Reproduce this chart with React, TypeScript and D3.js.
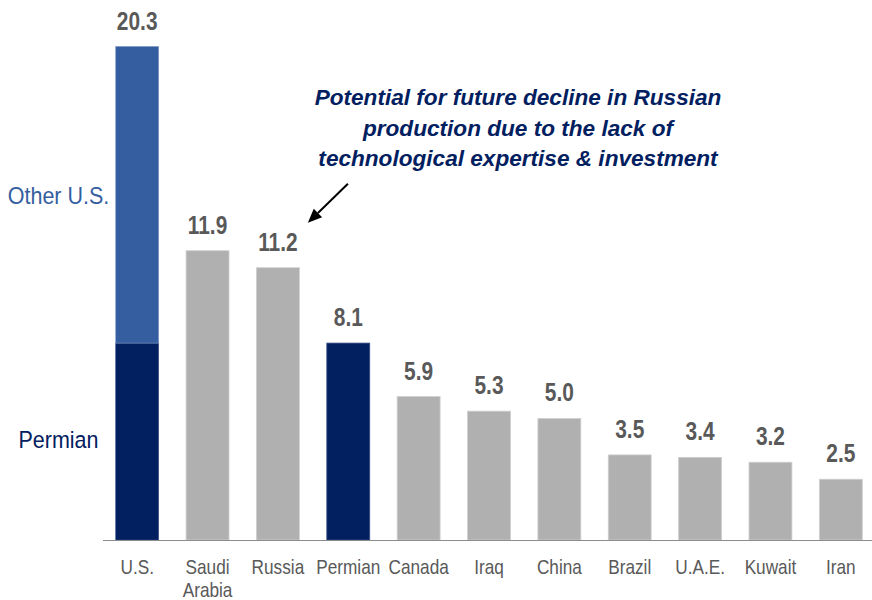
import React from "react";
import * as d3 from "d3";

const categories = ["U.S.", "Saudi Arabia", "Russia", "Permian", "Canada", "Iraq", "China", "Brazil", "U.A.E.", "Kuwait", "Iran"];
const categoryLines = [["U.S."], ["Saudi", "Arabia"], ["Russia"], ["Permian"], ["Canada"], ["Iraq"], ["China"], ["Brazil"], ["U.A.E."], ["Kuwait"], ["Iran"]];
const totals = [20.3, 11.9, 11.2, 8.1, 5.9, 5.3, 5.0, 3.5, 3.4, 3.2, 2.5];
const valueLabels = ["20.3", "11.9", "11.2", "8.1", "5.9", "5.3", "5.0", "3.5", "3.4", "3.2", "2.5"];
const usPermian = 8.1;
const usOther = 20.3 - 8.1;
const annotationLines = [
  "Potential for future decline in Russian",
  "production due to the lack of",
  "technological expertise & investment",
];

const W = 872;
const H = 600;
const NAVY = "#022060";
const BLUE = "#355EA0";
const GRAY = "#B0B0B0";
const TEXT = "#595959";
const ARIAL = "'Liberation Sans', Arial, sans-serif";

function NText(props: { x: number; y: number; sx?: number; sy?: number; size: number; fill: string; bold?: boolean; children: React.ReactNode }) {
  const { x, y, sx = 0.82, sy = 1, size, fill, bold } = props;
  return (
    <text
      transform={`translate(${x},${y}) scale(${sx},${sy})`}
      textAnchor="middle"
      fontFamily={ARIAL}
      fontWeight={bold ? "bold" : "normal"}
      fontSize={size}
      fill={fill}
    >
      {props.children}
    </text>
  );
}

export default function App() {
  const x = d3.scaleBand<string>().domain(categories).range([102, 876]).paddingInner(0.39).paddingOuter(0.195);
  const y = d3.scaleLinear().domain([0, 20.3]).range([540, 46.5]);
  const bw = x.bandwidth();

  const bars: React.ReactNode[] = [];
  categories.forEach((c, i) => {
    const x0 = x(c)!;
    if (i === 0) {
      bars.push(
        <rect key="us-perm" x={x0} y={y(usPermian)} width={bw} height={y(0) - y(usPermian)} fill={NAVY} stroke="#3a4f86" strokeWidth={0.6} />
      );
      bars.push(
        <rect key="us-other" x={x0} y={y(usPermian + usOther)} width={bw} height={y(usPermian) - y(usPermian + usOther)} fill={BLUE} stroke="#7d97c4" strokeWidth={0.6} />
      );
    } else {
      const fill = c === "Permian" ? NAVY : GRAY;
      const stroke = c === "Permian" ? "#3a4f86" : "#cfcfcf";
      bars.push(
        <rect key={c} x={x0} y={y(totals[i])} width={bw} height={y(0) - y(totals[i])} fill={fill} stroke={stroke} strokeWidth={0.8} />
      );
    }
  });

  const russiaX = x("Russia")! + bw / 2;
  const tipX = russiaX + 30;
  const tipY = y(11.2) - 45;
  const tailX = tipX + 40;
  const tailY = tipY - 39;
  const ang = Math.atan2(tipY - tailY, tipX - tailX);
  const ah = 14;
  const aw = 6;
  const bx = tipX - ah * Math.cos(ang);
  const by = tipY - ah * Math.sin(ang);
  const headPts = [
    [tipX, tipY],
    [bx + aw * Math.sin(ang), by - aw * Math.cos(ang)],
    [bx - aw * Math.sin(ang), by + aw * Math.cos(ang)],
  ];

  return (
    <svg width={W} height={H} style={{ position: "absolute", left: 0, top: 0, background: "#fff" }}>
      {bars}
      <line x1={103} x2={872} y1={y(0) + 0.5} y2={y(0) + 0.5} stroke="#8c8c8c" strokeWidth={1.2} />
      {categories.map((c, i) => (
        <NText key={"v" + c} x={x(c)! + bw / 2} y={y(totals[i]) - 17} size={25.5} fill={TEXT} bold>
          {valueLabels[i]}
        </NText>
      ))}
      {categories.map((c, i) =>
        categoryLines[i].map((ln, j) => (
          <NText key={"c" + c + j} x={x(c)! + bw / 2} y={574 + j * 23} size={21} fill={TEXT}>
            {ln}
          </NText>
        ))
      )}
      <NText x={58.5} y={204} size={21.5} sx={1} sy={1.08} fill={BLUE}>
        Other U.S.
      </NText>
      <NText x={58.5} y={448} size={21.5} sx={1} sy={1.08} fill={NAVY}>
        Permian
      </NText>
      {annotationLines.map((ln, i) => (
        <text key={"a" + i} x={518} y={105 + i * 30.5} textAnchor="middle" fontFamily={ARIAL} fontWeight="bold" fontStyle="italic" fontSize={22.6} fill={NAVY}>
          {ln}
        </text>
      ))}
      <line x1={tailX} y1={tailY} x2={bx} y2={by} stroke="#000" strokeWidth={2} />
      <polygon points={headPts.map((p) => p.join(",")).join(" ")} fill="#000" />
    </svg>
  );
}
